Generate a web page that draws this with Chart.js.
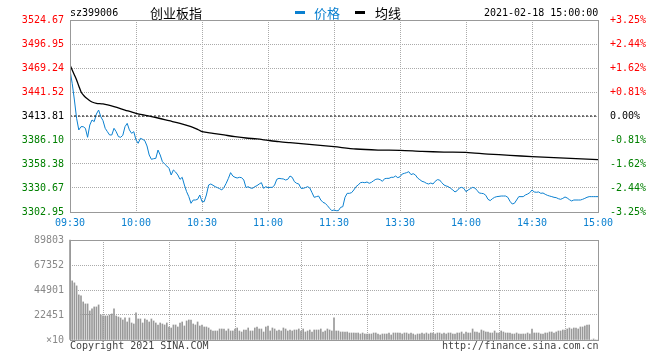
<!DOCTYPE html>
<html>
<head>
<meta charset="utf-8">
<script src="https://cdn.jsdelivr.net/npm/chart.js@4.4.0/dist/chart.umd.min.js"></script>
<style>
  body { margin: 0; background: #fff; }
  #wrap { position: relative; width: 660px; height: 360px; font-family: "DejaVu Sans Mono", monospace; font-size: 10px; }
  canvas { position: absolute; left: 0; }
  .t { position: absolute; white-space: nowrap; line-height: 12px; }
  .cjk { font-family: "Noto Sans CJK SC", sans-serif; font-size: 13px; line-height: 14px; }
  .dash { position: absolute; width: 10px; height: 3px; }
</style>
</head>
<body>
<div id="wrap">
  <canvas id="priceChart" width="660" height="235" style="top:0"></canvas>
  <canvas id="volChart" width="660" height="132" style="top:228px"></canvas>

  <div class="t" style="left:70px;top:7px;color:#000">sz399006</div>
  <div class="t cjk" style="left:150px;top:6px;color:#000">创业板指</div>
  <div class="dash" style="left:295px;top:11px;background:#0b80d0"></div>
  <div class="t cjk" style="left:314px;top:6px;color:#0b80d0">价格</div>
  <div class="dash" style="left:355px;top:11px;background:#000"></div>
  <div class="t cjk" style="left:375px;top:6px;color:#000">均线</div>
  <div class="t" style="left:484px;top:7px;color:#000">2021-02-18 15:00:00</div>

  <div class="t" style="left:70px;top:340px;color:#444">Copyright 2021 SINA.COM</div>
  <div class="t" style="left:442px;top:340px;color:#444">http://finance.sina.com.cn</div>
</div>

<script>
// 昨收 / 坐标刻度
const prevClose = 3413.81;
const priceTicks = [3524.67, 3496.95, 3469.24, 3441.52, 3413.81, 3386.10, 3358.38, 3330.67, 3302.95];
const pctLabels = ['+3.25%', '+2.44%', '+1.62%', '+0.81%', '0.00%', '-0.81%', '-1.62%', '-2.44%', '-3.25%'];
const timeLabels = ['09:30', '10:00', '10:30', '11:00', '11:30', '13:30', '14:00', '14:30', '15:00'];
const volTicks = [0, 22451, 44901, 67352, 89803];

// 分时价格 (每分钟, 0 = 09:30, 120 = 11:30/13:00, 240 = 15:00)
const price = [
  3466.9,3451.5,3432.3,3411.1,3397.7,3401.5,3401.5,3399.6,3389.2,3403.4,
  3409.2,3407.3,3416.1,3420.7,3413.0,3408.4,3399.6,3395.7,3391.9,3391.9,
  3399.6,3395.7,3390.0,3389.2,3391.5,3401.5,3405.3,3397.7,3393.8,3395.7,
  3386.1,3382.3,3388.0,3386.9,3385.3,3379.2,3368.8,3363.8,3364.5,3364.9,
  3374.5,3368.8,3361.1,3358.4,3356.1,3353.4,3345.7,3351.5,3349.1,3345.7,
  3340.7,3343.0,3334.1,3326.4,3320.7,3313.0,3316.8,3316.8,3317.6,3322.6,
  3314.9,
  3314.9,3322.6,3334.1,3335.3,3333.8,3332.2,3331.1,3329.9,3328.4,3331.4,
  3336.1,3341.8,3348.4,3344.5,3343.0,3342.2,3343.0,3342.6,3339.9,3331.1,
  3332.2,3330.7,3330.3,3332.2,3333.4,3335.3,3336.8,3330.3,3332.2,3331.1,
  3331.4,3331.4,3334.1,3340.7,3341.8,3341.4,3341.1,3339.9,3340.7,3344.5,
  3343.0,3338.0,3336.1,3335.3,3330.3,3330.3,3331.1,3332.2,3330.7,3325.3,
  3319.9,3320.7,3321.4,3316.8,3314.1,3313.0,3310.3,3307.2,3304.5,3305.3,
  3304.5,3304.5,3308.3,3309.1,3319.9,3324.5,3324.5,3325.3,3328.4,3332.2,
  3334.1,3336.8,3337.2,3336.8,3337.6,3336.1,3337.2,3339.1,3340.7,3341.1,
  3340.3,3338.4,3341.4,3341.8,3341.8,3343.0,3343.0,3344.5,3342.6,3343.7,
  3346.8,3347.6,3348.4,3349.5,3346.1,3347.2,3345.7,3342.2,3340.3,3338.4,
  3337.6,3336.1,3335.3,3336.4,3335.3,3338.4,3340.3,3339.9,3336.8,3334.1,
  3333.0,3332.2,3330.3,3328.4,3326.1,3327.6,3330.7,3331.4,3330.3,3326.4,
  3328.4,3329.9,3331.4,3330.7,3328.0,3324.9,3324.5,3324.1,3322.2,3317.6,
  3316.1,3318.3,3319.9,3320.7,3321.0,3321.4,3321.4,3321.4,3319.9,3315.3,
  3312.2,3313.0,3316.8,3320.7,3320.7,3320.7,3322.6,3323.7,3325.3,3328.4,
  3326.1,3325.7,3326.1,3324.5,3324.9,3323.4,3322.2,3321.4,3320.7,3319.9,
  3319.5,3318.3,3317.6,3318.7,3320.3,3319.1,3317.2,3315.7,3316.8,3316.8,
  3316.8,3316.8,3317.6,3318.7,3319.9,3320.7,3320.7,3320.7,3320.7,3320.7
];

// 均线 (读图取样)
const avgMinute = [0,1,2,3,4,5,6,7,8,10,12,15,20,25,30,35,40,45,50,55,58,60,
  65,70,75,80,85,90,95,100,105,110,115,120,130,140,150,160,170,180,190,200,210,220,230,240];
const avgPrice = [3472.7,3466.9,3461.2,3455.4,3448.5,3441.9,3438.1,3435.4,3433.4,3430.0,3428.4,3427.7,
  3424.6,3420.7,3416.9,3414.2,3411.5,3408.4,3405.3,3401.5,3398.4,3395.7,
  3393.8,3391.9,3390.0,3388.4,3387.3,3385.7,3384.2,3383.0,3381.9,3380.7,3379.6,3378.4,
  3375.7,3374.5,3374.2,3373.0,3372.2,3371.9,3369.9,3368.4,3366.9,3365.7,3364.5,3363.4];

// 成交量 (每分钟)
const volume = [
  89803,
  53100,51300,48600,40500,39600,34200,32400,32400,26100,27900,
  29700,29700,31500,22500,21600,21600,21600,22500,23400,27900,
  21600,20700,19800,18000,19800,16200,19800,15300,14400,24300,
  18900,18900,15300,18900,18000,16200,18900,17100,15300,13500,
  15300,14400,13500,15300,11700,10800,13500,13500,11700,15300,
  16200,12600,17100,18000,18000,14400,13500,16200,12600,13500,
  11700,11700,10800,9000,8100,8100,8100,9900,9900,9900,
  8100,9900,8100,8100,9900,10800,8100,7200,9000,9000,
  10800,8100,8100,10800,11700,9900,9900,7200,11700,12600,
  8100,10800,9900,8100,9000,8100,10800,9900,8100,9000,
  8100,9000,9000,9900,8100,9900,7200,8100,9000,7200,
  9000,9000,9000,9900,7200,8100,9900,9000,8100,19800,
  8100,8100,7200,7200,7200,7200,6300,6300,6300,6300,
  6300,5400,6300,5400,5400,5400,5400,6300,6300,5400,
  4500,5400,5400,5400,6300,4500,6300,6300,6300,6300,
  5400,6300,6300,5400,6300,5400,4500,5400,5400,6300,
  5400,6300,5400,6300,6300,5400,6300,6300,5400,6300,
  5400,6300,6300,5400,5400,6300,6300,7200,5400,7200,
  6300,6300,9900,7200,7200,6300,9000,8100,7200,7200,
  6300,6300,8100,6300,6300,8100,7200,6300,6300,6300,
  5400,5400,6300,5400,5400,5400,5400,6300,5400,9900,
  6300,6300,6300,5400,5400,6300,6300,7200,7200,6300,
  7200,8100,8100,9000,9000,9900,10800,9900,10800,10800,
  9900,11700,11700,12600,13500,13500,0,900,0,0
];

const FONT = { family: '"DejaVu Sans Mono", monospace', size: 10 };
const GRID = { color: '#aaa', lineWidth: 1, drawTicks: false };
const DOTS = { display: false, dash: [1, 1] };

// 外框
const framePlugin = {
  id: 'frame',
  afterDraw(chart) {
    const { ctx, chartArea: a } = chart;
    ctx.save();
    ctx.strokeStyle = '#999';
    ctx.lineWidth = 1;
    ctx.strokeRect(Math.floor(a.left) + 0.5, Math.floor(a.top) + 0.5,
      Math.round(a.right - a.left), Math.round(a.bottom - a.top));
    ctx.restore();
  }
};

function tickColor(ctx) {
  const v = ctx.tick.value;
  if (v > prevClose + 0.001) return '#f00';
  if (v < prevClose - 0.001) return '#008000';
  return '#000';
}

const setTicks = values => axis => { axis.ticks = values.map(v => ({ value: v })); };
const fixWidth = w => axis => { axis.width = w; };
const fixHeight = h => axis => { axis.height = h; };

new Chart(document.getElementById('priceChart'), {
  type: 'line',
  data: {
    datasets: [
      {
        data: [{ x: 0, y: prevClose }, { x: 240, y: prevClose }],
        borderColor: '#000', borderWidth: 1, borderDash: [2, 2], pointRadius: 0
      },
      {
        data: avgMinute.map((m, i) => ({ x: m, y: avgPrice[i] })),
        borderColor: '#000', borderWidth: 1.3, pointRadius: 0, tension: 0.3
      },
      {
        data: price.map((p, i) => ({ x: i, y: p })),
        borderColor: '#0b80d0', borderWidth: 1, pointRadius: 0, tension: 0
      }
    ]
  },
  options: {
    responsive: false,
    animation: false,
    layout: { padding: { top: 20, left: 0, right: 0, bottom: 0 } },
    plugins: { legend: { display: false }, tooltip: { enabled: false } },
    scales: {
      x: {
        type: 'linear', min: 0, max: 240,
        afterBuildTicks: setTicks(timeLabels.map((_, i) => i * 30)),
        afterFit: fixHeight(23),
        grid: GRID, border: DOTS,
        ticks: { font: FONT, color: '#0b80d0', padding: 5, maxRotation: 0, autoSkip: false,
          callback: (v, i) => timeLabels[i] }
      },
      y: {
        position: 'left', min: priceTicks[8], max: priceTicks[0],
        afterBuildTicks: setTicks(priceTicks),
        afterFit: fixWidth(70),
        grid: GRID, border: DOTS,
        ticks: { font: FONT, color: tickColor, padding: 6, callback: v => v.toFixed(2) }
      },
      y2: {
        position: 'right', min: priceTicks[8], max: priceTicks[0],
        afterBuildTicks: setTicks(priceTicks),
        afterFit: fixWidth(62),
        grid: { display: false }, border: { display: false },
        ticks: { font: FONT, color: tickColor, padding: 4, callback: (v, i) => pctLabels[i] }
      }
    }
  },
  plugins: [framePlugin]
});

new Chart(document.getElementById('volChart'), {
  type: 'bar',
  data: {
    datasets: [{
      data: volume.map((v, i) => ({ x: i, y: v })),
      backgroundColor: '#999', barThickness: 1, clip: false
    }]
  },
  options: {
    responsive: false,
    animation: false,
    layout: { padding: { top: 12, left: 0, right: 0, bottom: 0 } },
    plugins: { legend: { display: false }, tooltip: { enabled: false } },
    scales: {
      x: {
        type: 'linear', min: 0, max: 240, offset: false,
        afterBuildTicks: setTicks(timeLabels.map((_, i) => i * 30)),
        afterFit: fixHeight(20),
        grid: GRID, border: DOTS,
        ticks: { display: false }
      },
      y: {
        position: 'left', min: 0, max: volTicks[4],
        afterBuildTicks: setTicks(volTicks),
        afterFit: fixWidth(70),
        grid: GRID, border: DOTS,
        ticks: { font: FONT, color: '#888', padding: 6,
          callback: (v, i) => i === 0 ? '×10' : String(v) }
      },
      yR: {
        position: 'right', min: 0, max: volTicks[4],
        afterFit: fixWidth(62),
        grid: { display: false }, border: { display: false },
        ticks: { display: false }
      }
    }
  },
  plugins: [framePlugin]
});
</script>
</body>
</html>
